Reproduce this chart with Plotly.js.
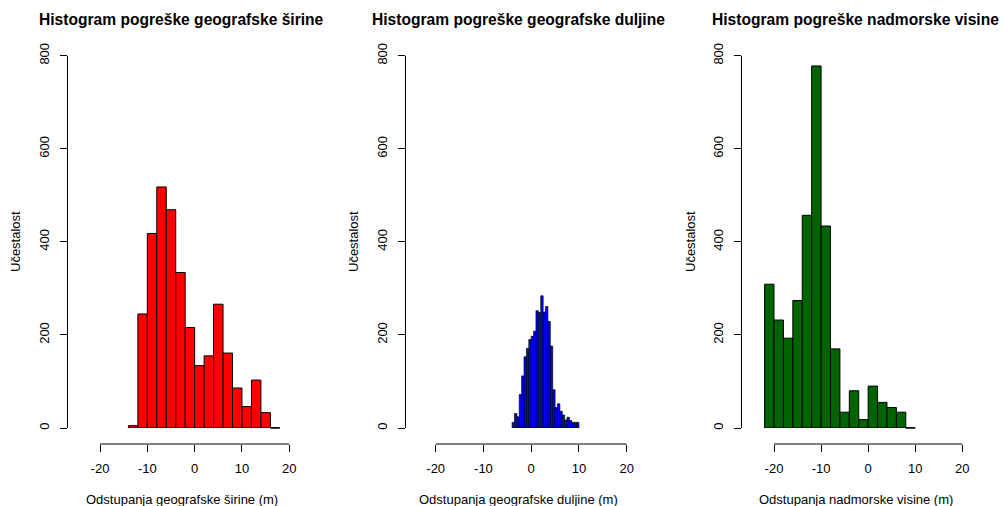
<!DOCTYPE html>
<html>
<head>
<meta charset="utf-8">
<script src="https://cdn.plot.ly/plotly-3.0.1.min.js"></script>
<style>html,body{margin:0;padding:0;background:#fff;}#chart{width:1003px;height:506px;}</style>
</head>
<body>
<div id="chart"></div>
<script>
// ---- data ----
const titles = ["Histogram pogreške geografske širine", "Histogram pogreške geografske duljine", "Histogram pogreške nadmorske visine"];
const xTitles = ["Odstupanja geografske širine (m)", "Odstupanja geografske duljine (m)", "Odstupanja nadmorske visine (m)"];
const yTitle = "Učestalost";
const xTickVals = [-20, -10, 0, 10, 20];
const xTickText = ["-20", "-10", "0", "10", "20"];
const yTickVals = [0, 200, 400, 600, 800];
const yTickText = ["0", "200", "400", "600", "800"];

// latitude error histogram: bins of width 2 starting at -14
const latBinStart = -14, latBinWidth = 2;
const latCounts = [5, 245, 418, 518, 469, 334, 216, 134, 155, 266, 161, 86, 46, 103, 33, 0];
// longitude error histogram: bins of width 0.5 starting at -4
const lonBinStart = -4, lonBinWidth = 0.5;
const lonCounts = [12, 31, 24, 72, 112, 153, 171, 190, 197, 208, 252, 248, 284, 249, 261, 229, 176, 82, 44, 52, 36, 28, 17, 23, 16, 12, 12, 12];
// altitude error histogram: bins of width 2 starting at -22
const altBinStart = -22, altBinWidth = 2;
const altCounts = [309, 232, 193, 274, 457, 778, 434, 170, 34, 80, 18, 90, 55, 44, 34, 0];

const fillColors = ["#ff0000", "#0000ff", "#006400"];
const outlineWidths = [1, 0.7, 1];

// ---- layout geometry (pixels) ----
const W = 1003, H = 506;
const panels = [
  {yLine: 66.7, xa: 100, xb: 289.3, cx: 181.5, ytx: 15},
  {yLine: 404.7, xa: 435.7, xb: 626.7, cx: 518.5, ytx: 353},
  {yLine: 741, xa: 774, xb: 962.3, cx: 855.5, ytx: 690}
];
const yTop = 55.7, yBot = 428, xLineY = 444;
const pad = 4; // extra data units on each side of the [-20, 20] axis so outer bins are drawn
const fx = p => p / W, fy = p => 1 - p / H;

function centers(start, width, n) {
  const c = [];
  for (let i = 0; i < n; i++) c.push(start + width * (i + 0.5));
  return c;
}
const series = [
  {start: latBinStart, w: latBinWidth, counts: latCounts},
  {start: lonBinStart, w: lonBinWidth, counts: lonCounts},
  {start: altBinStart, w: altBinWidth, counts: altCounts}
];

const font = {family: "Liberation Sans, Arial, sans-serif", color: "#000"};
const traces = [];
const layout = {
  width: W, height: H, margin: {l: 0, r: 0, t: 0, b: 0},
  paper_bgcolor: "#fff", plot_bgcolor: "#fff", showlegend: false,
  font: Object.assign({size: 13}, font),
  annotations: [], shapes: []
};

series.forEach((s, i) => {
  const n = i + 1;
  const xs = n === 1 ? "x" : "x" + n, ys = n === 1 ? "y" : "y" + n;
  const xk = n === 1 ? "xaxis" : "xaxis" + n, yk = n === 1 ? "yaxis" : "yaxis" + n;
  const p = panels[i];
  const lo = xTickVals[0], hi = xTickVals[xTickVals.length - 1];
  const ppu = (p.xb - p.xa) / (hi - lo);
  traces.push({
    type: "bar", x: centers(s.start, s.w, s.counts.length), y: s.counts,
    width: s.w, xaxis: xs, yaxis: ys, cliponaxis: false,
    marker: {color: fillColors[i], line: {color: "#000", width: outlineWidths[i]}},
    hoverinfo: "skip"
  });
  // zero-height bins drawn as a flat line along the base (as the reference does)
  s.counts.forEach((c, k) => {
    if (c === 0) {
      layout.shapes.push({type: "line", xref: xs, yref: "paper",
        x0: s.start + s.w * k, x1: s.start + s.w * (k + 1),
        y0: fy(yBot), y1: fy(yBot), line: {color: "#000", width: 1.3}});
    }
  });
  // x axis line spans only the first to last tick, R style
  layout.shapes.push({type: "line", xref: xs, yref: "paper",
    x0: lo, x1: hi, y0: fy(xLineY), y1: fy(xLineY), line: {color: "#000", width: 1}});
  layout[xk] = {
    domain: [fx(p.xa - pad * ppu), fx(p.xb + pad * ppu)], range: [lo - pad, hi + pad],
    anchor: "free", position: fy(xLineY),
    showgrid: false, zeroline: false, showline: false,
    ticks: "outside", ticklen: 7, tickcolor: "#000", tickwidth: 1, ticklabelstandoff: 5,
    tickmode: "array", tickvals: xTickVals, ticktext: xTickText,
    tickfont: Object.assign({size: 13}, font), fixedrange: true
  };
  layout[yk] = {
    domain: [fy(yBot), fy(yTop)], range: [yTickVals[0], yTickVals[yTickVals.length - 1]],
    anchor: "free", position: fx(p.yLine),
    showgrid: false, zeroline: false, showline: true, linecolor: "#000", linewidth: 1,
    ticks: "outside", ticklen: 7, tickcolor: "#000", tickwidth: 1, ticklabelstandoff: 6,
    tickmode: "array", tickvals: yTickVals, ticktext: yTickText, tickangle: -90,
    tickfont: Object.assign({size: 13}, font), fixedrange: true
  };
  layout.annotations.push({text: "<b>" + titles[i] + "</b>", xref: "paper", yref: "paper",
    x: fx(p.cx), y: fy(20), xanchor: "center", yanchor: "middle", showarrow: false,
    font: Object.assign({size: 15.6}, font)});
  layout.annotations.push({text: xTitles[i], xref: "paper", yref: "paper",
    x: fx(p.cx), y: fy(499), xanchor: "center", yanchor: "middle", showarrow: false,
    font: Object.assign({size: 13}, font)});
  layout.annotations.push({text: yTitle, xref: "paper", yref: "paper", textangle: -90,
    x: fx(p.ytx), y: fy(242), xanchor: "center", yanchor: "middle", showarrow: false,
    font: Object.assign({size: 13}, font)});
});

Plotly.newPlot("chart", traces, layout, {displayModeBar: false, staticPlot: true});
</script>
</body>
</html>
